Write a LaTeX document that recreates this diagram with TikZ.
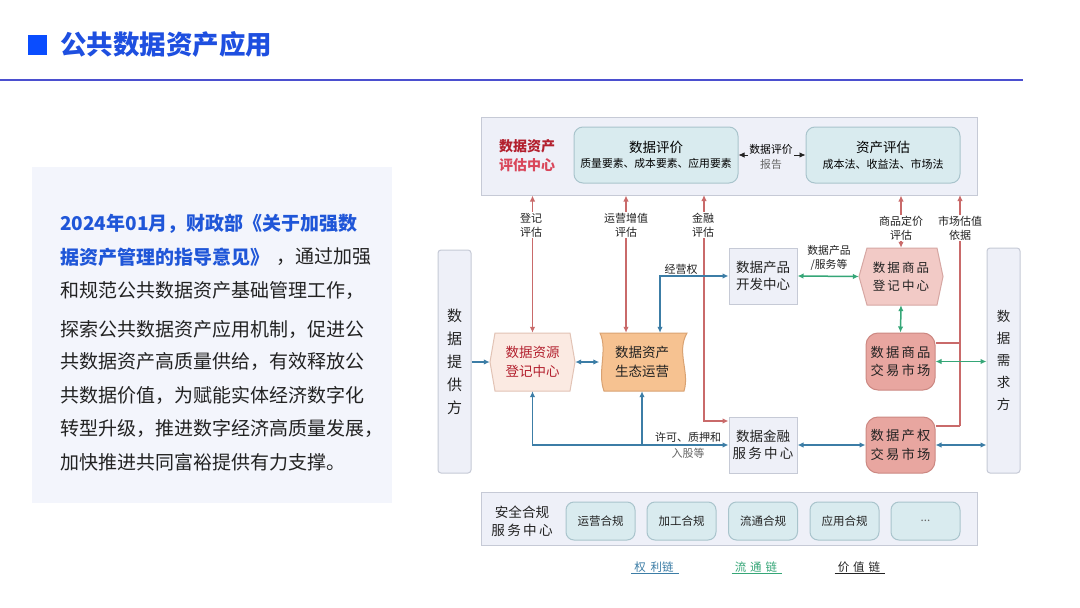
\documentclass[tikz,border=0pt]{standalone}
\usepackage{fontspec}
\setmainfont{Noto Sans CJK SC}
\usetikzlibrary{arrows.meta}
\definecolor{titleblue}{HTML}{1E4FE0}
\definecolor{sqblue}{HTML}{0A4DFF}
\definecolor{hline}{HTML}{4B4FCF}
\definecolor{leftbg}{HTML}{F3F5FC}
\definecolor{txtblue}{HTML}{1F56D8}
\definecolor{txt}{HTML}{222222}
\definecolor{panelbg}{HTML}{EEF0F8}
\definecolor{panelbd}{HTML}{C6CAD6}
\definecolor{tealbg}{HTML}{D9EBEF}
\definecolor{tealbd}{HTML}{A9C4CC}
\definecolor{redline}{HTML}{C96A6A}
\definecolor{darkred}{HTML}{B3202E}
\definecolor{pinkred}{HTML}{D9465A}
\definecolor{bluel}{HTML}{3C7DA6}
\definecolor{greenl}{HTML}{35A677}
\definecolor{peach}{HTML}{FBEAE2}
\definecolor{peachbd}{HTML}{E2C3B5}
\definecolor{orangef}{HTML}{F6C291}
\definecolor{orangebd}{HTML}{D9A272}
\definecolor{pinkf}{HTML}{F2CAC6}
\definecolor{pinkbd}{HTML}{D6A7A3}
\definecolor{salmon}{HTML}{E8A6A0}
\definecolor{salmonbd}{HTML}{CC8882}
\definecolor{graytxt}{HTML}{666666}
\tikzset{
  panel/.style={draw=panelbd, line width=1pt, fill=panelbg, inner sep=0pt},
  softbox/.style={draw=tealbd, line width=1pt, fill=tealbg, rounded corners=9pt, inner sep=0pt},
  sidebox/.style={draw=panelbd, line width=1pt, fill=panelbg, rounded corners=3pt, inner sep=0pt, align=center},
  centerbox/.style={draw=panelbd, line width=1pt, fill=panelbg, inner sep=0pt, align=center, font=\fontsize{13.5}{17.5}\selectfont, text=txt},
  market/.style={draw=salmonbd, line width=1pt, fill=salmon, rounded corners=12pt, inner sep=0pt, align=center, font=\fontsize{13.3}{18.5}\selectfont, text=txt},
  ghost/.style={inner sep=0pt, align=center},
  tip/.style={-{Latex[length=6pt,width=5.5pt]}},
  tips/.style={{Latex[length=6pt,width=5.5pt]}-{Latex[length=6pt,width=5.5pt]}},
  redarrow/.style={draw=redline, line width=1.5pt},
  bluearrow/.style={draw=bluel, line width=1.5pt},
  greenarrow/.style={draw=greenl, line width=1.5pt},
  lbl/.style={fill=white, inner sep=1pt, align=center, font=\fontsize{11}{14}\selectfont, text=txt},
  lefttext/.style={anchor=west, inner sep=0pt, font=\fontsize{19}{22}\selectfont, text=txt},
  smallbox/.style={draw=tealbd, line width=1pt, fill=tealbg, rounded corners=8pt, minimum width=69pt, minimum height=38pt, inner sep=0pt, font=\fontsize{11.5}{13}\selectfont, text=txt},
  legend/.style={inner sep=1pt, font=\fontsize{11.5}{13}\selectfont}
}
\begin{document}
\begin{tikzpicture}[x=1pt,y=-1pt]
\useasboundingbox (0,0) rectangle (1080,608);
\fill[white] (0,0) rectangle (1080,608);
% title
\node[fill=sqblue, minimum width=19pt, minimum height=20pt, inner sep=0pt] (sq) at (37.5,44.5) {};
\node[anchor=west, inner sep=0pt, text=titleblue, font=\fontsize{26.5}{30}\selectfont\bfseries] (title) at (60,44) {公共数据资产应用};
\coordinate (hl1) at (0,80);
\coordinate (hl2) at (1023,80);
\draw[hline, line width=1.8pt] (hl1) -- (hl2);
% left panel
\node[fill=leftbg, minimum width=360pt, minimum height=336pt, inner sep=0pt] (leftp) at (212,335) {};
\node[lefttext, text=txtblue, font=\fontsize{19}{22}\selectfont\bfseries] (l1) at (60,224) {2024年01月，财政部《关于加强数};
\node[lefttext, text=txtblue, font=\fontsize{19}{22}\selectfont\bfseries] (l2) at (60,257) {据资产管理的指导意见》};
\node[lefttext] (l2b) at (276,257) {，通过加强};
\node[lefttext] (l3) at (60,290) {和规范公共数据资产基础管理工作，};
\node[lefttext] (l4) at (60,329) {探索公共数据资产应用机制，促进公};
\node[lefttext] (l5) at (60,362) {共数据资产高质量供给，有效释放公};
\node[lefttext] (l6) at (60,395) {共数据价值，为赋能实体经济数字化};
\node[lefttext] (l7) at (60,428) {转型升级，推进数字经济高质量发展，};
\node[lefttext] (l8) at (60,462) {加快推进共同富裕提供有力支撑。};
% ===== diagram =====
% top panel
\node[panel, minimum width=496pt, minimum height=78pt] (top) at (729,156) {};
\node[ghost, font=\fontsize{14}{19}\selectfont\bfseries] (evalc) at (527,156) {\textcolor{darkred}{数据资产}\\\textcolor{pinkred}{评估中心}};
\node[softbox, minimum width=164pt, minimum height=56pt, align=center] (dval) at (656,155)
  {\fontsize{13.5}{17}\selectfont 数据评价\\[3pt]\fontsize{10.8}{13}\selectfont 质量要素、成本要素、应用要素};
\node[softbox, minimum width=154pt, minimum height=56pt, align=center] (aval) at (883,155)
  {\fontsize{13.5}{17}\selectfont 资产评估\\[4pt]\fontsize{11}{13}\selectfont 成本法、收益法、市场法};
\draw[tips, draw=txt, line width=0.8pt] (dval) -- (aval);
\node[fill=panelbg, inner sep=1pt, align=center, font=\fontsize{10.8}{15}\selectfont] (rep) at (771,157) {数据评价\\\textcolor{graytxt}{报告}};
% side boxes
\node[sidebox, minimum width=33pt, minimum height=223pt, font=\fontsize{15}{23}\selectfont, text=txt] (prov) at (454.5,361.5) {数\\据\\提\\供\\方};
\node[sidebox, minimum width=33pt, minimum height=225pt, font=\fontsize{13.5}{22}\selectfont, text=txt] (dem) at (1003.5,360.5) {数\\据\\需\\求\\方};
% registration hexagon
\draw[draw=peachbd, fill=peach, line width=1pt] (495,333) -- (570,333) -- (575,362) -- (570,391) -- (495,391) -- (490,362) -- cycle;
\node[ghost, minimum width=85pt, minimum height=58pt, text=darkred, font=\fontsize{13.5}{19}\selectfont] (reg) at (532.5,362) {数据资源\\登记中心};
% ecological operation
\draw[draw=orangebd, fill=orangef, line width=1pt] (600,333) -- (687,333) .. controls (676,352) and (690,372) .. (684,391) -- (604,391) .. controls (597,372) and (608,350) .. (600,333) -- cycle;
\node[ghost, minimum width=85pt, minimum height=58pt, text=txt, font=\fontsize{13.5}{19}\selectfont] (eco) at (642,362) {数据资产\\生态运营};
% centers
\node[centerbox, minimum width=68pt, minimum height=56pt] (dev) at (763,276) {数据产品\\开发中心};
\node[centerbox, minimum width=68pt, minimum height=56pt] (fin) at (763,445) {数据金融\\服\,务\,中\,心};
% goods registration hexagon
\draw[draw=pinkbd, fill=pinkf, line width=1pt] (867,248) -- (937,248) -- (943,276.5) -- (937,305) -- (867,305) -- (859,276.5) -- cycle;
\node[ghost, minimum width=84pt, minimum height=57pt, text=txt, font=\fontsize{12.5}{18.5}\selectfont] (greg) at (901,276.5) {数\,据\,商\,品\\登\,记\,中\,心};
\node[market, minimum width=69pt, minimum height=57pt] (gmk) at (900.5,361.5) {数\,据\,商\,品\\交\,易\,市\,场};
\node[market, minimum width=69pt, minimum height=56pt] (pmk) at (900.5,445) {数\,据\,产\,权\\交\,易\,市\,场};
% ---- red arrows ----
\draw[redarrow, tips] (reg.north) -- (reg.north |- top.south);
\node[lbl] (lb1) at (531,225) {登记\\评估};
\draw[redarrow, tips] ([xshift=-16pt]eco.north) -- ([xshift=-16pt]eco.north |- top.south);
\node[lbl] (lb2) at (626,225) {运营增值\\评估};
\coordinate (fintop) at (704,195);
\coordinate (fincorner) at (704,421);
\draw[redarrow, tips] (fintop) -- (fincorner) -- (fin.west |- fincorner);
\node[lbl] (lb3) at (703,225) {金融\\评估};
\draw[redarrow, tips] (greg.north) -- (greg.north |- top.south);
\node[lbl] (lb4) at (901,228) {商品定价\\评估};
\coordinate (mvtop) at (960,195);
\coordinate (mvbot) at (960,426);
\coordinate (mvmid) at (960,343);
\draw[redarrow, tip] (mvbot) -- (mvtop);
\draw[redarrow] (gmk.east |- mvmid) -- (mvmid);
\draw[redarrow] (pmk.east |- mvbot) -- (mvbot);
\node[lbl] (lb5) at (960,228) {市场估值\\依据};
% ---- blue arrows ----
\draw[bluearrow, tip] (prov.east |- reg.west) -- (reg.west);
\draw[bluearrow, tips] (reg.east) -- (eco.west);
\draw[bluearrow, tips] ([xshift=18pt]eco.north) |- (dev.west);
\node[inner sep=1pt, font=\fontsize{11}{13}\selectfont, text=txt] (lb6) at (681,269) {经营权};
\draw[bluearrow, tips] (reg.south) |- (fin.west);
\draw[bluearrow, tip] (eco.south |- fin.west) -- (eco.south);
\node[inner sep=1pt, align=center, font=\fontsize{11}{15.5}\selectfont, text=txt] (lb7) at (688,445.5) {许可、质押和\\\textcolor{graytxt}{入股等}};
\draw[bluearrow, tips] (fin.east) -- (pmk.west);
\draw[bluearrow, tips] (pmk.east) -- (dem.west |- pmk.east);
% ---- green arrows ----
\draw[greenarrow, tips] (dev.east) -- (greg.west);
\node[inner sep=1pt, align=center, font=\fontsize{10.8}{14}\selectfont, text=txt] (lb8) at (829,258) {数据产品\\/服务等};
\draw[greenarrow, tips] (greg.south) -- (gmk.north);
\draw[greenarrow, tips] (gmk.east) -- (dem.west |- gmk.east);
% bottom panel
\node[panel, minimum width=496pt, minimum height=53pt] (bot) at (729,518.5) {};
\node[ghost, font=\fontsize{13.6}{18}\selectfont, text=txt] (sec) at (522,521) {安全合规\\服\,务\,中\,心};
\node[smallbox] (c1) at (600.5,521) {运营合规};
\node[smallbox] (c2) at (681.5,521) {加工合规};
\node[smallbox] (c3) at (763,521) {流通合规};
\node[smallbox] (c4) at (844.5,521) {应用合规};
\node[smallbox, text=graytxt] (c5) at (925.5,521) {...};
% legend
\node[legend, text=bluel] (g1) at (654,567) {权\hspace{5pt}利链};
\node[legend, text=greenl] (g2) at (756,567) {流\hspace{4pt}通\hspace{4pt}链};
\node[legend, text=txt] (g3) at (859,567) {价\hspace{4pt}值\hspace{4pt}链};
\draw[bluel, line width=0.9pt] ([xshift=-2pt]g1.south west) -- ([xshift=4pt]g1.south east);
\draw[greenl, line width=0.9pt] ([xshift=-2pt]g2.south west) -- ([xshift=4pt]g2.south east);
\draw[txt, line width=0.9pt] ([xshift=-2pt]g3.south west) -- ([xshift=4pt]g3.south east);
\end{tikzpicture}
\end{document}
